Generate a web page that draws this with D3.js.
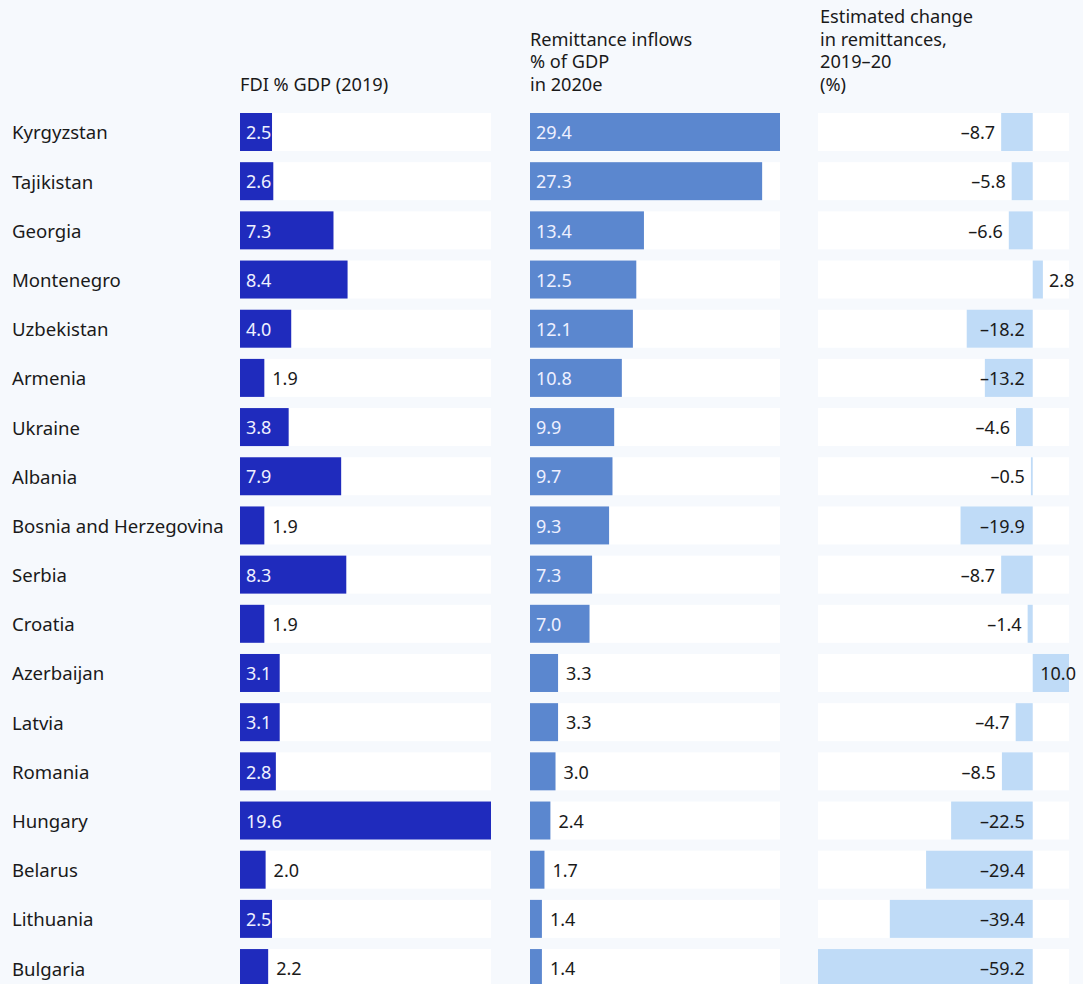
<!DOCTYPE html>
<html><head><meta charset="utf-8">
<script src="https://cdn.jsdelivr.net/npm/d3@7/dist/d3.min.js"></script>
<style>
html,body{margin:0;padding:0;background:#f6f9fd;}
svg{display:block;font-family:"Noto Sans","Open Sans",sans-serif;}
</style></head><body>
<script>
const countries = ["Kyrgyzstan","Tajikistan","Georgia","Montenegro","Uzbekistan","Armenia","Ukraine","Albania","Bosnia and Herzegovina","Serbia","Croatia","Azerbaijan","Latvia","Romania","Hungary","Belarus","Lithuania","Bulgaria"];
const fdi = [2.5,2.6,7.3,8.4,4.0,1.9,3.8,7.9,1.9,8.3,1.9,3.1,3.1,2.8,19.6,2.0,2.5,2.2];
const remittances = [29.4,27.3,13.4,12.5,12.1,10.8,9.9,9.7,9.3,7.3,7.0,3.3,3.3,3.0,2.4,1.7,1.4,1.4];
const change = [-8.7,-5.8,-6.6,2.8,-18.2,-13.2,-4.6,-0.5,-19.9,-8.7,-1.4,10.0,-4.7,-8.5,-22.5,-29.4,-39.4,-59.2];
const titles = [
  ["FDI % GDP (2019)"],
  ["Remittance inflows","% of GDP","in 2020e"],
  ["Estimated change","in remittances,","2019–20","(%)"]
];

const W = 1083, H = 984;
const svg = d3.select("body").append("svg").attr("width", W).attr("height", H);
svg.append("rect").attr("width", W).attr("height", H).attr("fill", "#f6f9fd");

const pitch = 49.18, bandH = 38, rowTop = 113;
const y = d3.scaleBand().domain(countries)
  .range([rowTop, rowTop + 17*pitch + bandH])
  .paddingInner((pitch-bandH)/pitch).paddingOuter(0);

const fmt = v => (v < 0 ? "–" : "") + Math.abs(v).toFixed(1);
const textCol = "#1a1a1a", fs = 18;

// country labels
svg.append("g").selectAll("text").data(countries).join("text")
  .attr("x", 12).attr("y", d => y(d) + y.bandwidth()/2)
  .attr("dy", "0.4em").attr("font-size", 18.6).attr("fill", textCol).text(d => d);

// titles
const titleX = [240, 530, 820];
titles.forEach((lines, i) => {
  const n = lines.length;
  lines.forEach((l, j) => {
    svg.append("text").attr("x", titleX[i]).attr("y", 91 - (n-1-j)*22.7)
      .attr("font-size", 18.2).attr("fill", textCol).text(l);
  });
});

function panel(values, x0, x1, color, thresh) {
  const x = d3.scaleLinear().domain([0, d3.max(values)]).range([x0, x1]);
  const g = svg.append("g");
  g.selectAll("rect.bg").data(countries).join("rect").attr("class","bg")
    .attr("x", x0).attr("width", x1 - x0).attr("y", d => y(d)).attr("height", y.bandwidth()).attr("fill", "#fff");
  g.selectAll("rect.bar").data(values).join("rect").attr("class","bar")
    .attr("x", x(0)).attr("y", (d,i) => y(countries[i])).attr("height", y.bandwidth())
    .attr("width", d => x(d) - x(0)).attr("fill", color);
  g.selectAll("text").data(values).join("text")
    .attr("x", d => (x(d) - x(0) >= thresh) ? x(0) + 6 : x(d) + 8)
    .attr("y", (d,i) => y(countries[i]) + y.bandwidth()/2).attr("dy", "0.4em")
    .attr("font-size", fs)
    .attr("fill", d => (x(d) - x(0) >= thresh) ? "#eef0ff" : textCol)
    .text(fmt);
}
panel(fdi, 240, 491, "#1f2bbd", 30);
panel(remittances, 530, 780, "#5b87cf", 30);

// change panel
const xc = d3.scaleLinear().domain([d3.min(change), d3.max(change)]).range([818, 1069]);
const gc = svg.append("g");
gc.selectAll("rect.bg").data(countries).join("rect").attr("class","bg")
  .attr("x", 818).attr("width", 1069 - 818).attr("y", d => y(d)).attr("height", y.bandwidth()).attr("fill", "#fff");
gc.selectAll("rect.bar").data(change).join("rect").attr("class","bar")
  .attr("x", d => Math.min(xc(d), xc(0))).attr("width", d => Math.abs(xc(d) - xc(0)))
  .attr("y", (d,i) => y(countries[i])).attr("height", y.bandwidth()).attr("fill", "#bfdbf7");
gc.selectAll("text").data(change).join("text")
  .attr("x", d => {
    const w = Math.abs(xc(d) - xc(0));
    if (d < 0) return w >= 45 ? xc(0) - 8 : xc(d) - 6;
    return (xc(d) + 6 + 30 > W) ? W - 7 : xc(d) + 6;
  })
  .attr("text-anchor", d => {
    if (d < 0) return "end";
    return (xc(d) + 6 + 30 > W) ? "end" : "start";
  })
  .attr("y", (d,i) => y(countries[i]) + y.bandwidth()/2).attr("dy", "0.4em")
  .attr("font-size", fs).attr("fill", textCol).text(fmt);
</script>
</body></html>
